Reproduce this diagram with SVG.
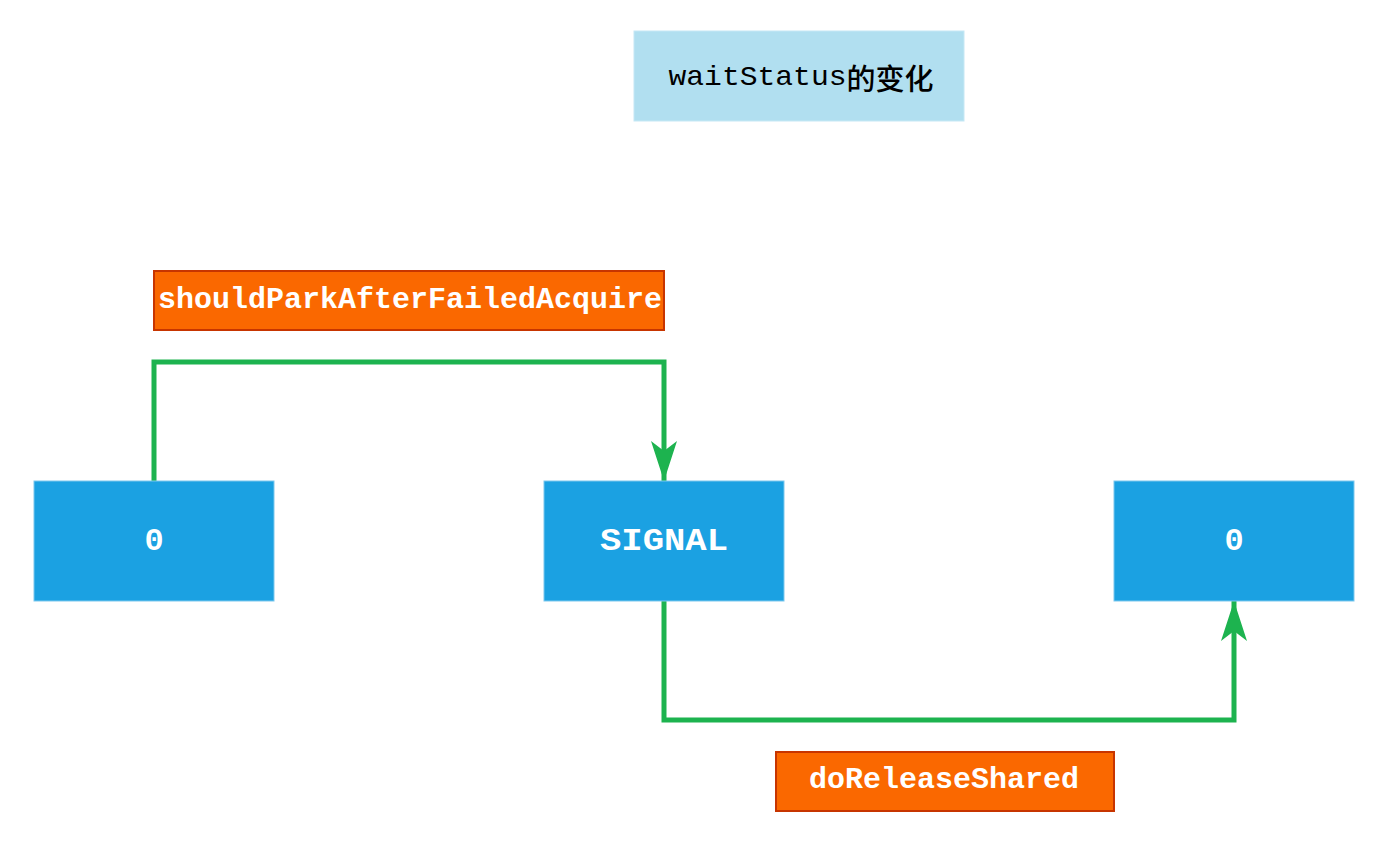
<svg xmlns="http://www.w3.org/2000/svg" width="1386" height="843" viewBox="0 0 1386 843">
<style>
.state{fill:#1ba1e2;stroke:#7cc8ee;stroke-width:1}
.state-t{font-family:"Liberation Mono","Courier New",monospace;font-weight:bold;font-size:32px;fill:#ffffff;text-anchor:middle;dominant-baseline:central}
.lbl{fill:#fa6800;stroke:#c73500;stroke-width:2}
.lbl-t{font-family:"Liberation Mono","Courier New",monospace;font-weight:bold;font-size:29px;fill:#ffffff;text-anchor:middle;dominant-baseline:central}
.edge{fill:none;stroke:#1db34f;stroke-width:5}
</style>
<defs>
<marker id="arr" markerUnits="userSpaceOnUse" markerWidth="40" markerHeight="26" viewBox="0 0 40 26" refX="40" refY="13" orient="auto">
<path d="M0,0 L40,13 L0,26 L10,13 Z" fill="#1db34f"/>
</marker>
</defs>
<rect width="1386" height="843" fill="#ffffff"/>
<g id="title">
<rect x="634" y="31" width="330" height="90" fill="#b1dff0" stroke="#c6e8f5" stroke-width="1"/>
<text x="801" y="77" font-family="Liberation Mono, 'Noto Sans CJK SC', monospace" font-size="28" fill="#000000" text-anchor="middle" dominant-baseline="central"><tspan textLength="178" lengthAdjust="spacingAndGlyphs">waitStatus</tspan><tspan font-family="'Noto Sans CJK SC', sans-serif" font-size="29" font-weight="500">的变化</tspan></text>
</g>
<g id="connectors">
<path class="edge" d="M154,481 V362 H664 V481" marker-end="url(#arr)"/>
<path class="edge" d="M664,601 V720 H1234 V601" marker-end="url(#arr)"/>
</g>
<g id="node-0-left">
<rect class="state" x="34" y="481" width="240" height="120"/>
<text class="state-t" x="154" y="541">0</text>
</g>
<g id="node-signal">
<rect class="state" x="544" y="481" width="240" height="120"/>
<text class="state-t" x="664" y="541" textLength="128" lengthAdjust="spacingAndGlyphs">SIGNAL</text>
</g>
<g id="node-0-right">
<rect class="state" x="1114" y="481" width="240" height="120"/>
<text class="state-t" x="1234" y="541">0</text>
</g>
<g id="label-should">
<rect class="lbl" x="154" y="271" width="510" height="59"/>
<text class="lbl-t" x="410" y="300" textLength="504" lengthAdjust="spacingAndGlyphs">shouldParkAfterFailedAcquire</text>
</g>
<g id="label-release">
<rect class="lbl" x="776" y="752" width="338" height="59"/>
<text class="lbl-t" x="944" y="780" textLength="270" lengthAdjust="spacingAndGlyphs">doReleaseShared</text>
</g>
</svg>
